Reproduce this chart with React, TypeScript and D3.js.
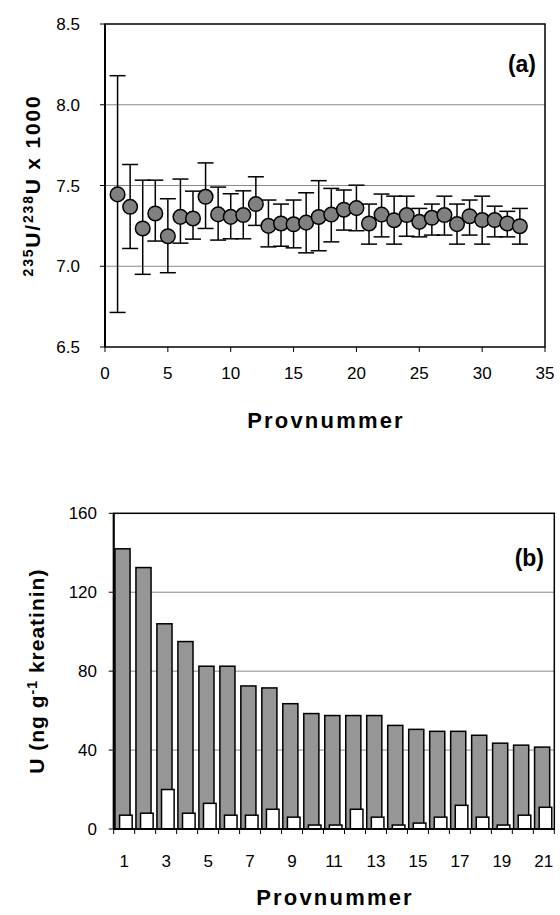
import React from 'react';
import * as d3 from 'd3';

// (a) 235U/238U x 1000 per sample, with asymmetric error bars
const sampleNo = d3.range(1, 34);
const ratio = [7.445, 7.368, 7.234, 7.327, 7.186, 7.306, 7.296, 7.43, 7.321, 7.306, 7.317, 7.385, 7.25,
  7.265, 7.26, 7.27, 7.305, 7.32, 7.35, 7.36, 7.265, 7.32, 7.285, 7.317, 7.275, 7.3, 7.317, 7.261,
  7.31, 7.286, 7.286, 7.265, 7.248];
const ratioHigh = [8.18, 7.63, 7.533, 7.533, 7.418, 7.54, 7.465, 7.64, 7.49, 7.449, 7.467, 7.554, 7.41,
  7.385, 7.41, 7.455, 7.53, 7.482, 7.472, 7.502, 7.385, 7.447, 7.434, 7.434, 7.358, 7.385, 7.434,
  7.385, 7.41, 7.434, 7.372, 7.34, 7.358];
const ratioLow = [6.714, 7.11, 6.95, 7.156, 6.96, 7.143, 7.168, 7.234, 7.162, 7.17, 7.17, 7.253, 7.12,
  7.124, 7.114, 7.083, 7.096, 7.151, 7.224, 7.22, 7.137, 7.182, 7.137, 7.186, 7.182, 7.193, 7.193,
  7.137, 7.193, 7.137, 7.182, 7.182, 7.137];
const ratioTicksX = [0, 5, 10, 15, 20, 25, 30, 35];
const ratioTicksY = [6.5, 7.0, 7.5, 8.0, 8.5];

// (b) U in ng per g kreatinin, two series per sample
const provCats = d3.range(1, 22).map(String);
const uHigh = [142, 132.5, 104, 95, 82.5, 82.5, 72.5, 71.5, 63.5, 58.5, 57.5, 57.5, 57.5, 52.5, 50.5,
  49.5, 49.5, 47.5, 43.5, 42.5, 41.5];
const uLow = [7, 8, 20, 8, 13, 7, 7, 10, 6, 2, 2, 10, 6, 2, 3, 6, 12, 6, 2, 7, 11];
const uTicks = [0, 40, 80, 120, 160];

const font = '"Liberation Sans", Arial, sans-serif';

const App = () => {
  // chart a
  const xa = d3.scaleLinear().domain([0, 35]).range([105, 545]);
  const ya = d3.scaleLinear().domain([6.5, 8.5]).range([347, 24]);
  // chart b
  const xb = d3.scaleBand().domain(provCats).range([113.7, 554.3]).padding(0);
  const yb = d3.scaleLinear().domain([0, 160]).range([829, 513.3]);
  const bw = xb.bandwidth();
  const cap = 8;

  return (
    <svg width={560} height={915} style={{ position: 'absolute', left: 0, top: 0, background: '#fff' }}
      fontFamily={font}>
      {/* ---------- (a) ---------- */}
      <g>
        {ratioTicksY.slice(1, -1).map(t => (
          <line key={t} x1={xa(0)} x2={xa(35)} y1={ya(t)} y2={ya(t)} stroke="#8a8a8a" strokeWidth={1} />
        ))}
        <rect x={xa(0)} y={ya(8.5)} width={xa(35) - xa(0)} height={ya(6.5) - ya(8.5)}
          fill="none" stroke="#000" strokeWidth={1.5} />
        <line x1={xa(0)} x2={xa(0)} y1={ya(8.5)} y2={ya(6.5)} stroke="#000" strokeWidth={2} />
        {ratioTicksY.map(t => (
          <g key={t}>
            <line x1={xa(0) - 5} x2={xa(0)} y1={ya(t)} y2={ya(t)} stroke="#000" strokeWidth={1} />
            <text x={80} y={ya(t) + 6} textAnchor="end" fontSize={17}>{d3.format('.1f')(t)}</text>
          </g>
        ))}
        {ratioTicksX.map(t => (
          <g key={t}>
            <line x1={xa(t)} x2={xa(t)} y1={ya(6.5)} y2={ya(6.5) + 5} stroke="#000" strokeWidth={1} />
            <text x={xa(t)} y={379} textAnchor="middle" fontSize={17}>{t}</text>
          </g>
        ))}
        {sampleNo.map((n, i) => (
          <g key={n} stroke="#000" strokeWidth={1.5}>
            <line x1={xa(n)} x2={xa(n)} y1={ya(ratioHigh[i])} y2={ya(ratioLow[i])} />
            <line x1={xa(n) - cap} x2={xa(n) + cap} y1={ya(ratioHigh[i])} y2={ya(ratioHigh[i])} />
            <line x1={xa(n) - cap} x2={xa(n) + cap} y1={ya(ratioLow[i])} y2={ya(ratioLow[i])} />
          </g>
        ))}
        {sampleNo.map((n, i) => (
          <circle key={n} cx={xa(n)} cy={ya(ratio[i])} r={7.3} fill="#808080" stroke="#000" strokeWidth={1.5} />
        ))}
        <text x={536} y={72} textAnchor="end" fontSize={23} fontWeight="bold">(a)</text>
        <text x={326} y={428} textAnchor="middle" fontSize={22} fontWeight="bold" letterSpacing={2.2}>Provnummer</text>
        <text transform={`translate(40,${(ya(6.5) + ya(8.5)) / 2}) rotate(-90)`} textAnchor="middle"
          fontSize={21} fontWeight="bold" letterSpacing={1.8}>
          <tspan fontSize={14} dy={-7}>235</tspan>
          <tspan dy={7}>U/</tspan>
          <tspan fontSize={14} dy={-7}>238</tspan>
          <tspan dy={7}>U x 1000</tspan>
        </text>
      </g>

      {/* ---------- (b) ---------- */}
      <g>
        {uTicks.slice(1, -1).map(t => (
          <line key={t} x1={113.7} x2={554.3} y1={yb(t)} y2={yb(t)} stroke="#8a8a8a" strokeWidth={1} />
        ))}
        {provCats.map((c, i) => (
          <g key={c} stroke="#000" strokeWidth={1.5}>
            <rect x={(xb(c) as number) + 0.06 * bw} y={yb(uHigh[i])} width={0.72 * bw}
              height={yb(0) - yb(uHigh[i])} fill="#969696" />
            <rect x={(xb(c) as number) + 0.28 * bw} y={yb(uLow[i])} width={0.6 * bw}
              height={yb(0) - yb(uLow[i])} fill="#fff" />
          </g>
        ))}
        <rect x={113.7} y={yb(160)} width={554.3 - 113.7} height={yb(0) - yb(160)}
          fill="none" stroke="#000" strokeWidth={1.5} />
        <line x1={113.7} x2={113.7} y1={yb(160)} y2={yb(0)} stroke="#000" strokeWidth={2} />
        <line x1={113.7} x2={554.3} y1={yb(0)} y2={yb(0)} stroke="#000" strokeWidth={2} />
        {uTicks.map(t => (
          <g key={t}>
            <line x1={108.7} x2={113.7} y1={yb(t)} y2={yb(t)} stroke="#000" strokeWidth={1} />
            <text x={97} y={yb(t) + 6} textAnchor="end" fontSize={17}>{t}</text>
          </g>
        ))}
        {[...provCats, 'end'].map((c, i) => {
          const x = 113.7 + i * bw;
          return <line key={c} x1={x} x2={x} y1={yb(0)} y2={yb(0) + 5} stroke="#000" strokeWidth={1} />;
        })}
        {provCats.filter((_, i) => i % 2 === 0).map(c => (
          <text key={c} x={(xb(c) as number) + bw / 2} y={867} textAnchor="middle" fontSize={17}>{c}</text>
        ))}
        <text x={544} y={566} textAnchor="end" fontSize={23} fontWeight="bold">(b)</text>
        <text x={335} y={905} textAnchor="middle" fontSize={22} fontWeight="bold" letterSpacing={2.2}>Provnummer</text>
        <text transform={`translate(44,${(yb(0) + yb(160)) / 2}) rotate(-90)`} textAnchor="middle"
          fontSize={21} fontWeight="bold" letterSpacing={1}>
          U (ng g<tspan fontSize={14} dy={-7}>-1</tspan><tspan dy={7}> kreatinin)</tspan>
        </text>
      </g>
    </svg>
  );
};

export default App;
